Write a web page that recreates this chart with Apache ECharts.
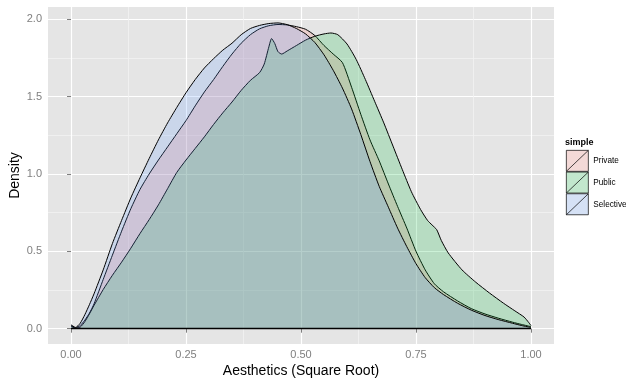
<!DOCTYPE html>
<html>
<head>
<meta charset="utf-8">
<script src="https://cdn.jsdelivr.net/npm/echarts@6/dist/echarts.min.js"></script>
<style>
  html, body { margin: 0; padding: 0; background: #fff; }
  #chart { width: 626px; height: 384px; }
</style>
</head>
<body>
<div id="chart"></div>
<script>
// density curves (x = sqrt aesthetics score, y = density)
const privateX = [0, 0.01, 0.02, 0.03, 0.04, 0.05, 0.07, 0.09, 0.11, 0.13, 0.15, 0.17, 0.19, 0.21, 0.23, 0.25, 0.27, 0.29, 0.31, 0.33, 0.35, 0.37, 0.39, 0.41, 0.43, 0.45, 0.47, 0.49, 0.51, 0.53, 0.55, 0.57, 0.59, 0.61, 0.63, 0.65, 0.67, 0.69, 0.71, 0.73, 0.75, 0.77, 0.79, 0.81, 0.84, 0.87, 0.9, 0.93, 0.96, 0.98, 1.0];
const privateY = [0.02, 0.005, 0.02, 0.055, 0.1, 0.16, 0.318, 0.475, 0.63, 0.775, 0.9, 1.0, 1.09, 1.175, 1.26, 1.345, 1.44, 1.53, 1.61, 1.695, 1.775, 1.845, 1.9, 1.938, 1.958, 1.966, 1.963, 1.952, 1.935, 1.895, 1.83, 1.775, 1.72, 1.56, 1.385, 1.22, 1.085, 0.935, 0.79, 0.65, 0.5, 0.38, 0.29, 0.238, 0.18, 0.13, 0.095, 0.067, 0.042, 0.027, 0.013];

const publicX = [0, 0.01, 0.02, 0.03, 0.04, 0.05, 0.07, 0.09, 0.11, 0.13, 0.15, 0.17, 0.19, 0.21, 0.23, 0.25, 0.27, 0.29, 0.31, 0.33, 0.35, 0.37, 0.39, 0.41, 0.42, 0.43, 0.436, 0.443, 0.45, 0.458, 0.47, 0.49, 0.51, 0.53, 0.55, 0.565, 0.58, 0.6, 0.62, 0.64, 0.66, 0.68, 0.7, 0.72, 0.74, 0.76, 0.775, 0.785, 0.795, 0.805, 0.82, 0.85, 0.88, 0.91, 0.94, 0.965, 0.985, 0.995, 1.0];
const publicY = [0.015, 0.003, 0.01, 0.045, 0.095, 0.15, 0.253, 0.345, 0.43, 0.52, 0.615, 0.705, 0.8, 0.905, 1.01, 1.09, 1.165, 1.24, 1.32, 1.395, 1.465, 1.54, 1.605, 1.655, 1.71, 1.82, 1.875, 1.843, 1.79, 1.775, 1.795, 1.83, 1.865, 1.89, 1.905, 1.911, 1.9, 1.84, 1.74, 1.61, 1.47, 1.33, 1.18, 1.03, 0.885, 0.77, 0.7, 0.67, 0.64, 0.57, 0.49, 0.38, 0.3, 0.23, 0.165, 0.115, 0.075, 0.04, 0.02];

const selectiveX = [0, 0.01, 0.02, 0.03, 0.04, 0.05, 0.07, 0.09, 0.11, 0.13, 0.15, 0.17, 0.19, 0.21, 0.23, 0.25, 0.27, 0.29, 0.31, 0.33, 0.35, 0.37, 0.39, 0.41, 0.43, 0.45, 0.47, 0.49, 0.51, 0.53, 0.55, 0.57, 0.59, 0.61, 0.63, 0.65, 0.67, 0.69, 0.71, 0.73, 0.75, 0.77, 0.79, 0.81, 0.84, 0.87, 0.9, 0.93, 0.96, 0.98, 1.0];
const selectiveY = [0.025, 0.008, 0.035, 0.09, 0.155, 0.225, 0.38, 0.55, 0.7, 0.845, 0.975, 1.1, 1.22, 1.33, 1.43, 1.525, 1.61, 1.685, 1.745, 1.8, 1.845, 1.9, 1.94, 1.96, 1.972, 1.976, 1.965, 1.94, 1.905, 1.85, 1.77, 1.67, 1.555, 1.42, 1.255, 1.08, 0.92, 0.785, 0.65, 0.53, 0.42, 0.33, 0.265, 0.22, 0.165, 0.12, 0.085, 0.058, 0.035, 0.02, 0.008];

const baseline = [[0, 0], [1, 0]];

const xTicks = [0, 0.25, 0.5, 0.75, 1];
const xMinor = [0.125, 0.375, 0.625, 0.875];
const yTicks = [0, 0.5, 1, 1.5, 2];
const yMinor = [0.25, 0.75, 1.25, 1.75];

const zip = (xs, ys) => xs.map((x, i) => [x, ys[i]]);

const chart = echarts.init(document.getElementById("chart"), null, { renderer: "canvas" });

const font = "Liberation Sans, Arial, Helvetica, sans-serif";
const xRange = { min: -0.05, max: 1.05 };
const yRange = { min: -0.099, max: 2.079 };

const groups = [
  { name: "Private", x: privateX, y: privateY, fill: "rgba(248,118,109,0.2)", key: "#F3D9D7" },
  { name: "Public", x: publicX, y: publicY, fill: "rgba(0,186,56,0.2)", key: "#C2E7CD" },
  { name: "Selective", x: selectiveX, y: selectiveY, fill: "rgba(97,156,255,0.2)", key: "#D5E1F5" },
];

const series = groups.map((g, i) => ({
  name: g.name,
  type: "line",
  data: zip(g.x, g.y),
  smooth: 0.2,
  showSymbol: false,
  symbol: "none",
  lineStyle: { color: "#000", width: 1 },
  itemStyle: { color: g.key },
  areaStyle: { color: g.fill, opacity: 1 },
  z: 2 + i,
  markLine: i === groups.length - 1 ? {
    silent: true,
    symbol: "none",
    label: { show: false },
    lineStyle: { color: "#000", width: 1.4, type: "solid" },
    data: [[{ coord: baseline[0] }, { coord: baseline[1] }]],
  } : undefined,
}));

const keyIcon = "path://M0,0H22V21H0Z M0,21L22,0";

chart.setOption({
  animation: false,
  backgroundColor: "#fff",
  title: {
    text: "simple",
    left: 565,
    top: 138,
    padding: 0,
    textStyle: { fontFamily: font, fontSize: 9, fontWeight: "bold", color: "#000" },
  },
  legend: {
    orient: "vertical",
    left: 566,
    top: 150,
    padding: 0,
    itemWidth: 22,
    itemHeight: 21,
    itemGap: 0,
    icon: keyIcon,
    itemStyle: { borderColor: "#000", borderWidth: 0.7 },
    textStyle: { fontFamily: font, fontSize: 8.2, color: "#000" },
    data: groups.map((g) => g.name),
  },
  grid: {
    left: 48, right: 72, top: 7, bottom: 40,
    outerBoundsMode: "none",
    show: true, backgroundColor: "#E5E5E5", borderWidth: 0,
  },
  xAxis: [
    {
      type: "value",
      ...xRange,
      name: "Aesthetics (Square Root)",
      nameLocation: "middle",
      nameGap: 20,
      nameMoveOverlap: false,
      nameTextStyle: { fontFamily: font, fontSize: 14, color: "#000" },
      axisLine: { show: false },
      axisTick: { show: true, length: 4, customValues: xTicks, lineStyle: { color: "#7F7F7F" } },
      axisLabel: {
        customValues: xTicks,
        margin: 5,
        fontFamily: font,
        fontSize: 11,
        color: "#7F7F7F",
        formatter: (v) => v.toFixed(2),
      },
      splitLine: { show: true, lineStyle: { color: "#fff", width: 1.2 } },
    },
    {
      type: "value",
      ...xRange,
      axisLine: { show: false },
      axisTick: { show: false, customValues: xMinor },
      axisLabel: { show: false },
      splitLine: { show: true, lineStyle: { color: "#F2F2F2", width: 0.8 } },
    },
  ],
  yAxis: [
    {
      type: "value",
      ...yRange,
      name: "Density",
      nameLocation: "middle",
      nameGap: 26,
      nameMoveOverlap: false,
      nameTextStyle: { fontFamily: font, fontSize: 14, color: "#000" },
      axisLine: { show: false },
      axisTick: { show: true, length: 4, customValues: yTicks, lineStyle: { color: "#7F7F7F" } },
      axisLabel: {
        customValues: yTicks,
        margin: 6,
        fontFamily: font,
        fontSize: 11,
        color: "#7F7F7F",
        formatter: (v) => v.toFixed(1),
      },
      splitLine: { show: true, lineStyle: { color: "#fff", width: 1.2 } },
    },
    {
      type: "value",
      ...yRange,
      axisLine: { show: false },
      axisTick: { show: false, customValues: yMinor },
      axisLabel: { show: false },
      splitLine: { show: true, lineStyle: { color: "#F2F2F2", width: 0.8 } },
    },
  ],
  series: series,
});

window.addEventListener("resize", () => chart.resize());
</script>
</body>
</html>
